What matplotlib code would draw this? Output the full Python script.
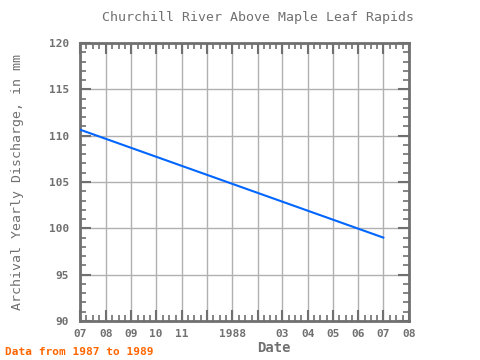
import matplotlib
matplotlib.use("Agg")
import matplotlib.pyplot as plt
import matplotlib.dates as mdates
from matplotlib.ticker import MultipleLocator, FixedLocator
import datetime as dt

dates = [dt.date(1987, 7, 1), dt.date(1988, 7, 1)]
values = [110.65, 99.0]
tick_dates = [dt.date(1987, m, 1) for m in range(7, 13)] + [dt.date(1988, m, 1) for m in range(1, 9)]
tick_labels = ['07', '08', '09', '10', '11', '', '1988', '', '03', '04', '05', '06', '07', '08']

GRAY = '#707070'
FONT = 'DejaVu Sans Mono'

fig = plt.figure(figsize=(4.8, 3.6), dpi=100)
ax = fig.add_axes([80/480, 1-321/360, (409-80)/480, (321-43)/360])

ax.plot(dates, values, color='#0066ff', lw=1.5, zorder=3)

ax.set_xlim(dt.date(1987, 7, 1), dt.date(1988, 8, 1))
ax.set_ylim(90, 120)

tnums = mdates.date2num(tick_dates)
ax.xaxis.set_major_locator(FixedLocator(tnums))
ax.set_xticklabels(tick_labels)
minor = []
for a, b in zip(tnums[:-1], tnums[1:]):
    for k in (1, 2, 3):
        minor.append(a + (b - a) * k / 4)
ax.xaxis.set_minor_locator(FixedLocator(minor))
ax.yaxis.set_major_locator(MultipleLocator(5))
ax.yaxis.set_minor_locator(MultipleLocator(1))

ax.grid(True, which='major', color='#b0b0b0', lw=1)
ax.set_axisbelow(True)
for s in ax.spines.values():
    s.set_color(GRAY)
    s.set_linewidth(2)
ax.tick_params(which='both', direction='in', top=True, right=True, color=GRAY,
               labelcolor=GRAY, labelsize=8)
ax.tick_params(which='major', length=8, width=1.5)
ax.tick_params(which='minor', length=4, width=1.2)
for lab in ax.get_xticklabels() + ax.get_yticklabels():
    lab.set_family(FONT)
    lab.set_fontweight('bold')
ax.tick_params(axis='x', pad=6)
ax.tick_params(axis='y', pad=8)

fig.text(258/480, 1-18/360, 'Churchill River Above Maple Leaf Rapids', ha='center', va='center',
         family=FONT, fontsize=9.5, color=GRAY)
fig.text(18/480, 1-182/360, 'Archival Yearly Discharge, in mm', rotation=90, ha='center', va='center',
         family=FONT, fontsize=9.5, color=GRAY)
fig.text(274/480, 1-348/360, 'Date', ha='center', va='center', family=FONT, fontsize=10,
         color=GRAY, fontweight='bold')
fig.text(5/480, 1-352/360, 'Data from 1987 to 1989', ha='left', va='center', family=FONT,
         fontsize=8, color='#ff6600', fontweight='bold')

fig.savefig('out.png', dpi=100)
